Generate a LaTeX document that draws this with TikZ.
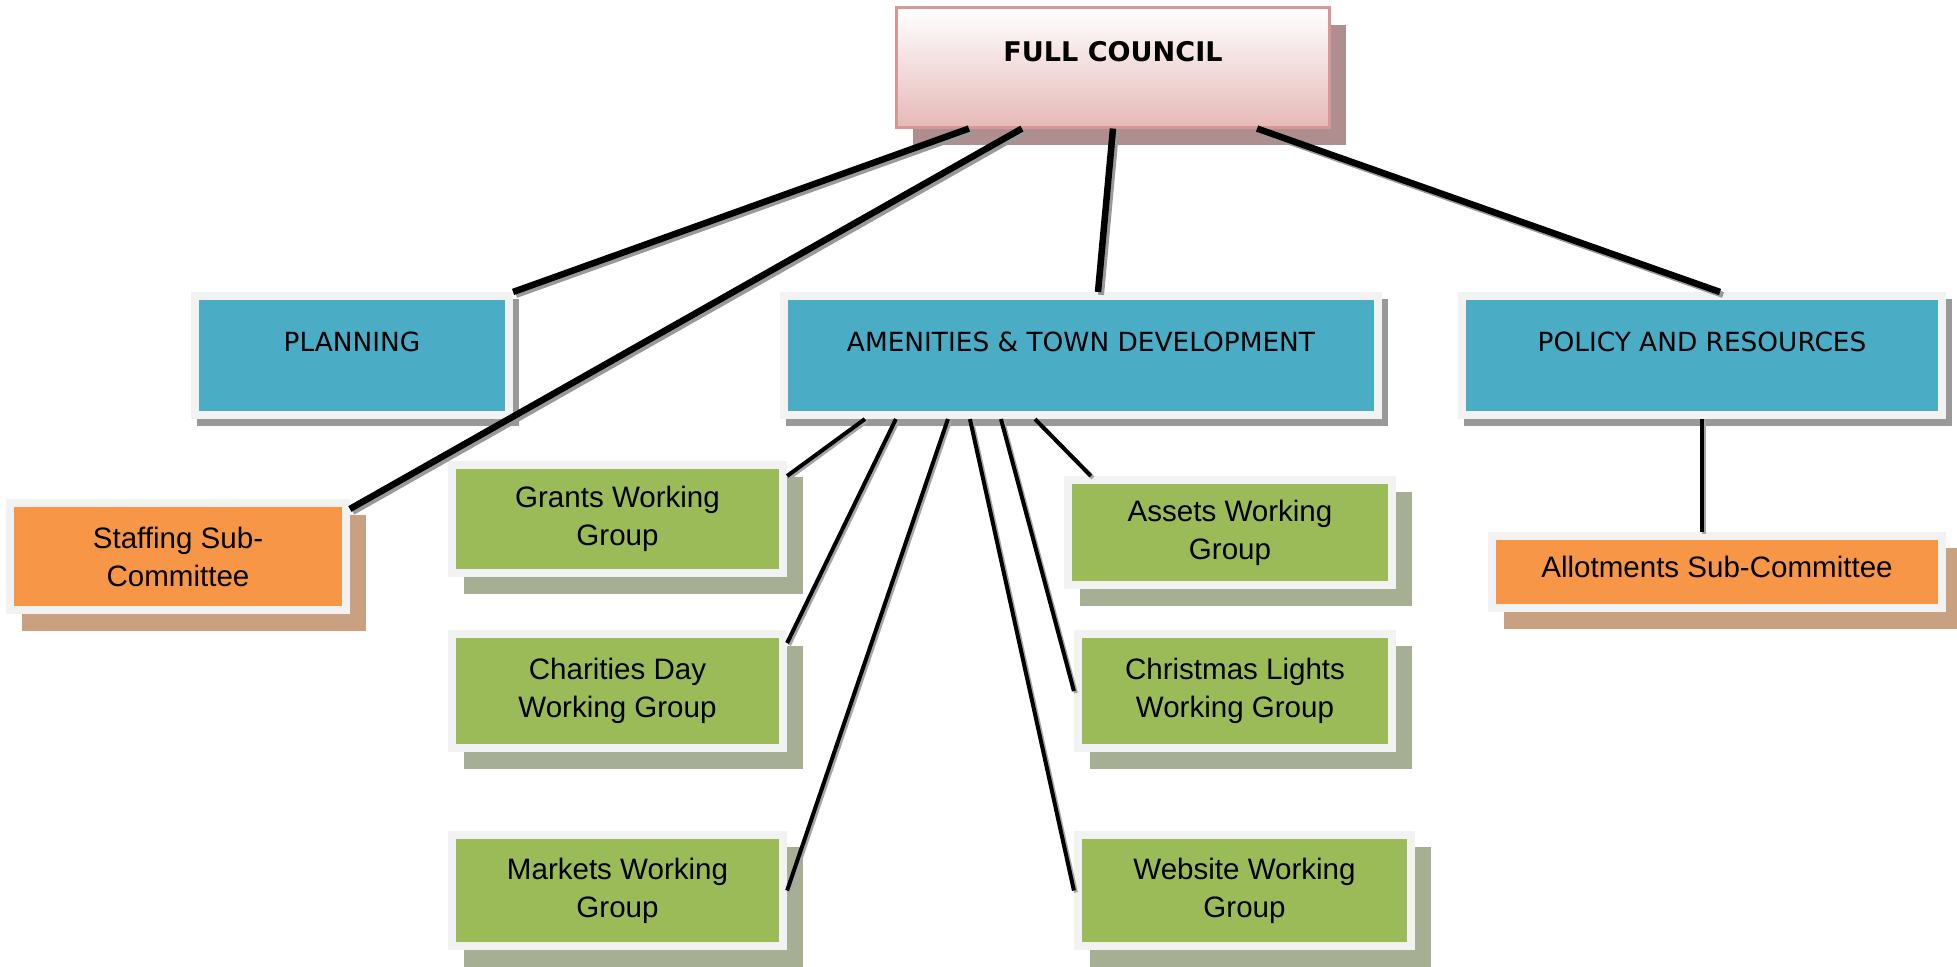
\documentclass[tikz,border=0pt]{standalone}
\usepackage{fontspec}
\setmainfont{Liberation Sans}
\newfontfamily\tahoma{DejaVu Sans}
\usepackage{tikz}
\usetikzlibrary{positioning,calc,shadows}

\definecolor{rim}{HTML}{F2F2F2}
\definecolor{unitblue}{HTML}{4BACC6}
\definecolor{groupgreen}{HTML}{9BBB59}
\definecolor{suborange}{HTML}{F79646}
\definecolor{fcred}{HTML}{D99694}
\definecolor{fcpink}{HTML}{E6B9B8}
\definecolor{fcshade}{HTML}{AE8E8E}
\definecolor{greenshade}{HTML}{A6AF94}
\definecolor{orangeshade}{HTML}{C9A080}
\definecolor{grayshade}{HTML}{999999}

\begin{document}
\begin{tikzpicture}[x=0.01cm, y=-0.01cm,
	box/.style={rectangle, inner sep=0pt, draw=rim, line width=0.08cm, align=center,
		font=\fontsize{8.4}{10.8}\selectfont},
	unit/.style={box, fill=unitblue, minimum height=1.19cm,
		font=\tahoma\fontsize{7.5}{9}\selectfont, text height=5.5pt, text depth=7.7pt,
		drop shadow={shadow xshift=0.06cm, shadow yshift=-0.07cm, opacity=1,
			fill=grayshade, draw=grayshade}},
	group/.style={box, fill=groupgreen,
		drop shadow={shadow xshift=0.16cm, shadow yshift=-0.165cm, opacity=1,
			fill=greenshade, draw=greenshade}},
	sub/.style={box, fill=suborange,
		drop shadow={shadow xshift=0.16cm, shadow yshift=-0.165cm, opacity=1,
			fill=orangeshade, draw=orangeshade}},
	council/.style={rectangle, draw=fcred, line width=0.03cm,
		top color=white, bottom color=fcpink,
		font=\tahoma\bfseries\fontsize{7.7}{9}\selectfont, text height=5.6pt, text depth=8.9pt,
		drop shadow={shadow xshift=0.165cm, shadow yshift=-0.175cm, opacity=1, fill=fcshade}},
	link/.style={line width=0.065cm, preaction={draw=black!40, line width=0.06cm,
		transform canvas={shift={(0.03cm,-0.03cm)}}}},
	twig/.style={line width=0.04cm, preaction={draw=black!35, line width=0.04cm,
		transform canvas={shift={(0.02cm,-0.02cm)}}}}]
	\useasboundingbox (0,0) rectangle (1957,966);

	\node[council, minimum width=4.32cm, minimum height=1.19cm] (fc) at (1113,67.5) {FULL COUNCIL};

	% committees
	\node[unit, minimum width=3.14cm] (plan) at (352,355.5) {PLANNING};
	\node[unit, minimum width=5.94cm] (amen) at (1081,355.5) {AMENITIES \& TOWN DEVELOPMENT};
	\node[unit, minimum width=4.80cm] (pol) at (1702,355.5) {POLICY AND RESOURCES};

	\node[sub, minimum width=3.355cm, minimum height=1.07cm] 
		  (staff) at (178,556.5) {Staffing Sub-\\Committee};
	\node[sub, minimum width=4.50cm, minimum height=0.72cm, text height=6.2pt, text depth=2.8pt] 
		  (allot) at (1717,572) {Allotments Sub-Committee};

	% working groups
	\node[group, minimum width=3.31cm, minimum height=1.08cm] 
		  (grants) at (617.5,519) {Grants Working\\Group};
	\node[group, minimum width=3.31cm, minimum height=1.14cm] 
		  (charity) at (617.5,691) {Charities Day\\Working Group};
	\node[group, minimum width=3.31cm, minimum height=1.11cm] 
		  (market) at (617.5,890.5) {Markets Working\\Group};
	\node[group, minimum width=3.24cm, minimum height=1.05cm] 
		  (assets) at (1230,532.5) {Assets Working\\Group};
	\node[group, minimum width=3.14cm, minimum height=1.14cm] 
		  (xmas) at (1235,691) {Christmas Lights\\Working Group};
	\node[group, minimum width=3.33cm, minimum height=1.11cm] 
		  (web) at (1244.5,890.5) {Website Working\\Group};

	\draw[link]  ([xshift=-1.44cm]fc.south) -- (plan.north east);
	\draw[link]  ([xshift=-0.91cm]fc.south) -- ([yshift=-0.1cm]staff.north east);
	\draw[link]  (fc.south) -- ([xshift=0.17cm]amen.north);
	\draw[link]  ([xshift=1.44cm]fc.south) -- ([xshift=0.18cm]pol.north);

	\draw[twig]  ([xshift=-2.16cm]amen.south) -- ([yshift=-0.15cm]grants.north east);
	\draw[twig]  ([xshift=-1.85cm]amen.south) -- ([yshift=-0.13cm]charity.north east);
	\draw[twig]  ([xshift=-1.33cm]amen.south) -- (market.east);
	\draw[twig]  ([xshift=-1.11cm]amen.south) -- (web.west);
	\draw[twig]  ([xshift=-0.80cm]amen.south) -- (xmas.west);
	\draw[twig]  ([xshift=-0.46cm]amen.south) -- ([xshift=0.27cm]assets.north west);
	\draw[twig]  (pol.south) -- (pol.south |- allot.north);
\end{tikzpicture}
\end{document}
